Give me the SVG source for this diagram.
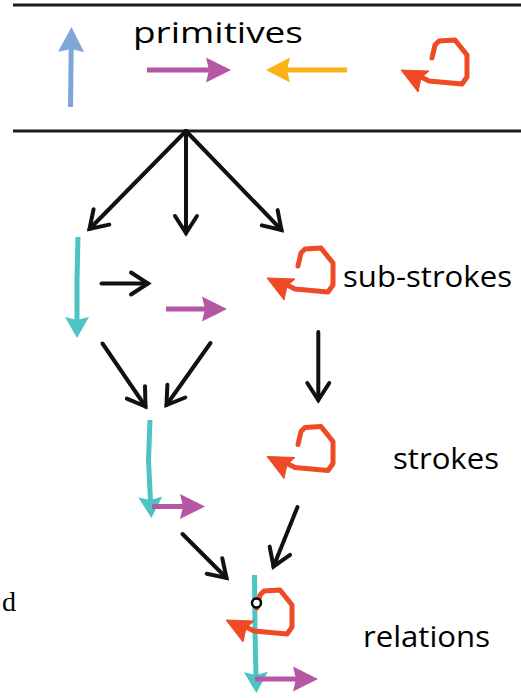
<svg xmlns="http://www.w3.org/2000/svg" xmlns:xlink="http://www.w3.org/1999/xlink" width="521" height="698" viewBox="0 0 521 698">
  <style>
    .rule{stroke:#1c1c1c;stroke-width:3;fill:none}
    .k{stroke:#111;stroke-width:4;fill:none;stroke-linecap:round;marker-end:url(#chev)}
    .blue{stroke:#80a5d9;stroke-width:5;fill:none;marker-end:url(#hBlue)}
    .mag{stroke:#b657a6;stroke-width:5;fill:none;marker-end:url(#hMag)}
    .org{stroke:#fbb218;stroke-width:5;fill:none;marker-end:url(#hOrg)}
    .cyan{stroke:#4cc4c4;stroke-width:5;fill:none;marker-end:url(#hCyan)}
    .loopline{stroke:#ef4a25;stroke-width:5;fill:none;stroke-linejoin:round;stroke-linecap:round}
    .loophead{fill:#ef4a25;stroke:#ef4a25;stroke-width:1;stroke-linejoin:round}
    .lbl{font-family:"Open Sans","Noto Sans","DejaVu Sans",sans-serif;font-size:29px;fill:#000}
  </style>
  <defs>
    <!-- open chevron for black connectors -->
    <marker id="chev" markerUnits="userSpaceOnUse" orient="auto" refX="0" refY="0" markerWidth="40" markerHeight="40" overflow="visible">
      <path d="M-17,-11 L0,0 L-17,11" fill="none" stroke="#111" stroke-width="4" stroke-linecap="round" stroke-linejoin="miter"/>
    </marker>
    <!-- filled, slightly notched heads for the coloured strokes -->
    <marker id="hBlue" markerUnits="userSpaceOnUse" orient="auto" refX="0" refY="0" markerWidth="40" markerHeight="40" overflow="visible">
      <path d="M-4,-13 L21,0 L-4,13 L-1,0 Z" fill="#80a5d9"/>
    </marker>
    <marker id="hMag" markerUnits="userSpaceOnUse" orient="auto" refX="0" refY="0" markerWidth="40" markerHeight="40" overflow="visible">
      <path d="M-4,-12.5 L21,0 L-4,12.5 L-1,0 Z" fill="#b657a6"/>
    </marker>
    <marker id="hOrg" markerUnits="userSpaceOnUse" orient="auto" refX="0" refY="0" markerWidth="40" markerHeight="40" overflow="visible">
      <path d="M-4,-12.5 L20,0 L-4,12.5 L-1,0 Z" fill="#fbb218"/>
    </marker>
    <marker id="hCyan" markerUnits="userSpaceOnUse" orient="auto" refX="0" refY="0" markerWidth="40" markerHeight="40" overflow="visible">
      <path d="M-4,-12 L17,0 L-4,12 L-1,0 Z" fill="#4cc4c4"/>
    </marker>
    <!-- hand-drawn loop stroke, arrow tip at the origin -->
    <g id="loop">
      <path class="loopline" d="M31,-12 L34,-25 L38,-29 L54,-30 L66,-15 L66,7 L61,14 L28,11 L20,7"/>
      <path class="loophead" d="M0,0 L28,1 L20,8 L17,22 Z"/>
    </g>
  </defs>

  <!-- primitive library band -->
  <g id="primitives">
    <line class="rule" x1="13" y1="5" x2="521" y2="5"/>
    <line class="rule" x1="13" y1="131" x2="521" y2="131"/>
    <text class="lbl" x="133" y="43" font-size="30" textLength="170" lengthAdjust="spacingAndGlyphs">primitives</text>
    <path class="blue" d="M70.5,107 L71.2,48"/>
    <path class="mag" d="M147,70 L210,70"/>
    <path class="org" d="M347,70 L286,70"/>
    <use xlink:href="#loop" transform="translate(401,70)"/>
  </g>

  <!-- sub-strokes -->
  <g id="sub-strokes">
    <path class="cyan" d="M78,237 L77,280 L77,321"/>
    <path class="mag" d="M166,309 L206,309"/>
    <use xlink:href="#loop" transform="translate(267,278)"/>
    <text class="lbl" x="343" y="287" textLength="169" lengthAdjust="spacingAndGlyphs">sub-strokes</text>
  </g>

  <!-- strokes -->
  <g id="strokes">
    <path class="cyan" d="M150,420 L148.5,460 L150.5,501"/>
    <path class="mag" d="M152,506.5 L184,506.5"/>
    <use xlink:href="#loop" transform="translate(267,456.5)"/>
    <text class="lbl" x="393" y="469" textLength="106" lengthAdjust="spacingAndGlyphs">strokes</text>
  </g>

  <!-- relations -->
  <g id="relations">
    <path class="cyan" d="M254.5,575 L255,630 L256,676"/>
    <use xlink:href="#loop" transform="translate(226,620)"/>
    <circle cx="256.5" cy="603" r="4.5" fill="#fff" stroke="#000" stroke-width="2.5"/>
    <path class="mag" d="M255,679 L297,679"/>
    <text class="lbl" x="363" y="647" textLength="127" lengthAdjust="spacingAndGlyphs">relations</text>
  </g>

  <!-- partial caption at the left edge -->
  <text x="2" y="611" font-family="'Liberation Serif','Times New Roman',serif" font-size="28" fill="#000">d</text>

  <!-- connectors -->
  <g id="connectors">
    <path class="k" d="M186,131 L89.5,229"/>
    <path class="k" d="M186,131 L186,233"/>
    <path class="k" d="M186,131 L281.5,230"/>
    <path class="k" d="M101.5,283.5 L148,283.5"/>
    <path class="k" d="M318.3,332 L318.3,400"/>
    <path class="k" d="M102.5,343.5 L145.5,406.5"/>
    <path class="k" d="M210.5,343 L166.5,405"/>
    <path class="k" d="M182.5,534 L226.5,578"/>
    <path class="k" d="M297.5,507 L273.5,566.5"/>
  </g>
</svg>
